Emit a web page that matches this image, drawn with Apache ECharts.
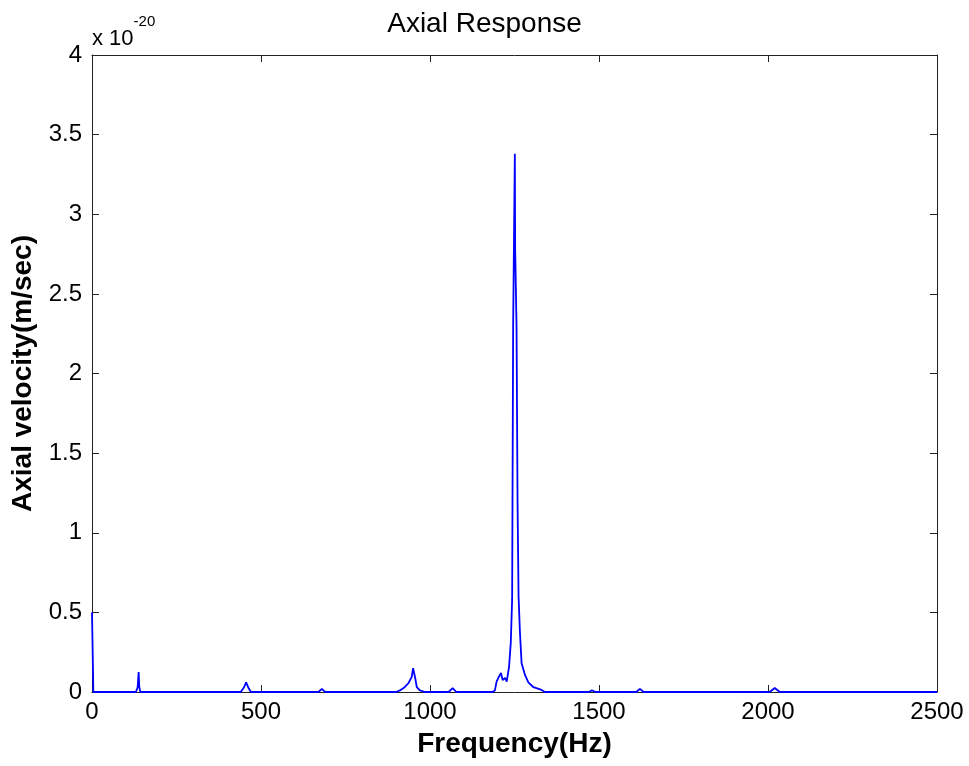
<!DOCTYPE html>
<html>
<head>
<meta charset="utf-8">
<title>Axial Response</title>
<script src="https://cdn.jsdelivr.net/npm/echarts@6/dist/echarts.min.js"></script>
<style>
  html, body { margin: 0; padding: 0; background: #fff; }
  #main { width: 969px; height: 766px; }
</style>
</head>
<body>
<div id="main"></div>
<script>
// frequency (Hz) and axial velocity (x 1e-20 m/sec)
const freqs = [0, 4, 130, 135, 138, 140, 143, 440, 450, 456, 462, 470, 670, 680, 690,
  900, 911, 925, 936, 946, 950, 956, 961, 970, 985, 1055, 1067, 1078,
  1185, 1192, 1197, 1204, 1210, 1215, 1222, 1227, 1234, 1239, 1243, 1246, 1251,
  1252, 1256, 1259, 1262, 1266, 1271, 1281, 1291, 1306, 1330, 1340,
  1470, 1479, 1490, 1610, 1621, 1632, 2005, 2020, 2035, 2500];
const velocity = [0.5, 0, 0, 0.03, 0.125, 0.03, 0, 0, 0.03, 0.06, 0.03, 0, 0, 0.02, 0,
  0, 0.01, 0.03, 0.055, 0.095, 0.15, 0.09, 0.03, 0.01, 0, 0, 0.025, 0,
  0, 0.01, 0.065, 0.096, 0.12, 0.075, 0.088, 0.065, 0.16, 0.31, 0.58, 2.3, 3.38,
  2.78, 2.3, 1.2, 0.6, 0.38, 0.18, 0.107, 0.06, 0.03, 0.013, 0,
  0, 0.01, 0, 0, 0.02, 0, 0, 0.025, 0, 0];
const xTicks = [0, 500, 1000, 1500, 2000, 2500];
const yTicks = [0, 0.5, 1, 1.5, 2, 2.5, 3, 3.5, 4];

const font = 'Liberation Sans, Arial, sans-serif';
const chart = echarts.init(document.getElementById('main'));

const lineData = freqs.map((f, i) => [f, velocity[i]]);

const axisLine = { show: true, onZero: false, lineStyle: { color: '#222', width: 1 } };
const tick = { show: true, inside: true, length: 7, lineStyle: { color: '#222' } };

chart.setOption({
  backgroundColor: '#fff',
  animation: false,
  title: {
    text: 'Axial Response',
    left: 'center',
    top: 5,
    textStyle: { fontFamily: font, fontSize: 28, fontWeight: 'normal', color: '#000' }
  },
  graphic: [{
    type: 'text',
    left: 92,
    top: 14,
    style: {
      text: '{b|x 10}{s|-20}',
      rich: {
        b: { fontFamily: font, fontSize: 22, fill: '#000', verticalAlign: 'bottom', padding: [14, 0, 0, 0] },
        s: { fontFamily: font, fontSize: 15, fill: '#000', verticalAlign: 'top' }
      }
    }
  }],
  grid: { left: 92, right: 32, top: 55, bottom: 74 },
  xAxis: [{
    type: 'value',
    min: 0, max: 2500, interval: 500,
    name: 'Frequency(Hz)',
    nameLocation: 'middle',
    nameGap: 38,
    nameTextStyle: { fontFamily: font, fontSize: 28, fontWeight: 'bold', color: '#000' },
    axisLine: axisLine,
    axisTick: tick,
    splitLine: { show: false },
    axisLabel: {
      fontFamily: font, fontSize: 24, color: '#000', margin: 8,
      formatter: v => xTicks.includes(v) ? String(v) : ''
    }
  }, {
    type: 'value', position: 'top',
    min: 0, max: 2500, interval: 500,
    axisLine: axisLine, axisTick: tick,
    axisLabel: { show: false }, splitLine: { show: false }
  }],
  yAxis: [{
    type: 'value',
    min: 0, max: 4, interval: 0.5,
    name: 'Axial velocity(m/sec)',
    nameLocation: 'middle',
    nameGap: 46,
    nameTextStyle: { fontFamily: font, fontSize: 28, fontWeight: 'bold', color: '#000' },
    axisLine: axisLine,
    axisTick: tick,
    splitLine: { show: false },
    axisLabel: {
      fontFamily: font, fontSize: 24, color: '#000', margin: 10,
      formatter: v => yTicks.includes(v) ? String(v) : ''
    }
  }, {
    type: 'value', position: 'right',
    min: 0, max: 4, interval: 0.5,
    axisLine: axisLine, axisTick: tick,
    axisLabel: { show: false }, splitLine: { show: false }
  }],
  series: [{
    type: 'line',
    data: lineData,
    showSymbol: false,
    lineStyle: { color: '#0000ff', width: 1.8 },
    clip: true,
    z: 1
  }]
});
</script>
</body>
</html>
